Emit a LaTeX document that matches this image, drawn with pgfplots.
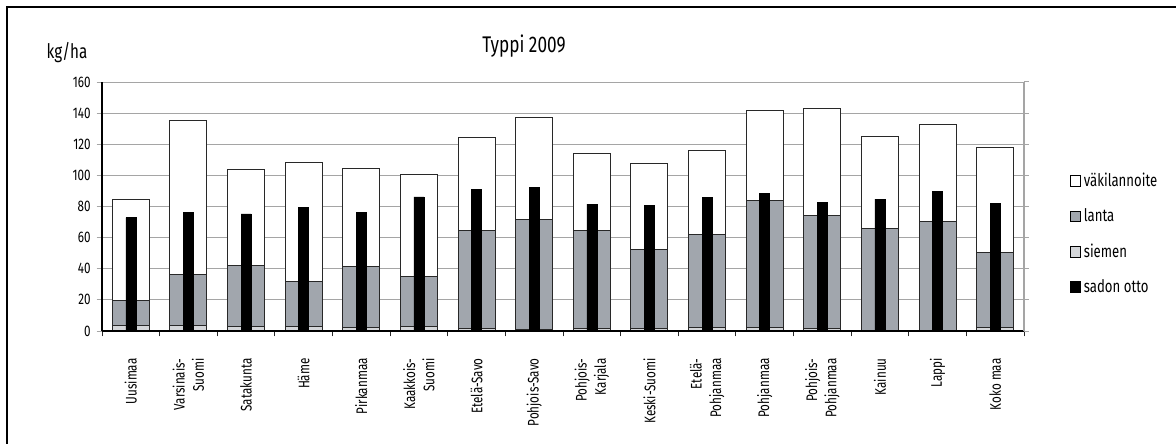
\documentclass[border=0pt]{standalone}
\usepackage{fontspec}
\setmainfont{Fira Sans}[FakeStretch=0.76]
\usepackage{pgfplots}
\pgfplotsset{compat=1.18}
\definecolor{lantac}{RGB}{161,166,173}
\definecolor{siemenc}{RGB}{212,214,217}
\definecolor{gridc}{RGB}{165,165,165}
\definecolor{edgec}{RGB}{40,40,40}
\begin{document}
\begin{tikzpicture}
\pgfplotsset{
  baseaxis/.style={
    scale only axis, width=691.5pt, height=186.75pt,
    at={(0pt,0pt)}, anchor=south west,
    xmin=-0.5, xmax=15.5, ymin=0, ymax=160,
  }
}
\begin{axis}[baseaxis,
  ybar stacked, bar width=27.75pt,
  axis line style={draw=none},
  ytick={0,20,40,60,80,100,120,140,160},
  ymajorgrids, major grid style={gridc, line width=0.75pt},
  ytick pos=left, tick align=outside,
  major tick length=4pt,
  ytick style={gridc, line width=0.75pt},
  yticklabel style={font=\fontsize{11.5}{13}\selectfont, xshift=-1pt},
  /pgf/number format/assume math mode=true,
  xtick={0,1,2,3,4,5,6,7,8,9,10,11,12,13,14,15}, xtick pos=bottom,
  xtick style={draw=none},
  xticklabels={Uusimaa,{Varsinais-\\Suomi},Satakunta,Häme,Pirkanmaa,{Kaakkois-\\Suomi},Etelä-Savo,Pohjois-Savo,{Pohjois-\\Karjala},Keski-Suomi,{Etelä-\\Pohjanmaa},Pohjanmaa,{Pohjois-\\Pohjanmaa},Kainuu,Lappi,Koko maa},
  xticklabel style={rotate=90, anchor=east, align=right, font=\fontsize{11.5}{14.5}\selectfont, xshift=-13pt},
  legend image code/.code={\draw[#1, line width=0.6pt] (0pt,-4pt) rectangle (7.5pt,4pt);},
  legend style={draw=none, fill=none, at={(1.05,0.645)}, anchor=north west,
    font=\fontsize{13}{15}\selectfont, row sep=11pt, inner sep=0pt},
  legend cell align=left,
]
\addlegendimage{fill=white, draw=black}
\addlegendentry{väkilannoite}
\addlegendimage{fill=lantac, draw=black}
\addlegendentry{lanta}
\addlegendimage{fill=siemenc, draw=black}
\addlegendentry{siemen}
\addlegendimage{fill=black, draw=black}
\addlegendentry{sadon otto}
% siemen
\addplot[fill=siemenc, draw=edgec, line width=0.75pt, forget plot] coordinates {
(0,3.4) (1,3.4) (2,3.0) (3,2.8) (4,2.4) (5,2.8) (6,1.3) (7,1.1)
(8,1.3) (9,1.5) (10,2.4) (11,2.4) (12,1.7) (13,0.6) (14,0.4) (15,2.4)};
% lanta
\addplot[fill=lantac, draw=edgec, line width=0.75pt, forget plot] coordinates {
(0,15.9) (1,33.0) (2,38.9) (3,29.3) (4,38.9) (5,32.1) (6,63.1) (7,70.8)
(8,63.5) (9,51.1) (10,59.6) (11,81.7) (12,72.7) (13,65.5) (14,70.0) (15,48.1)};
% vakilannoite
\addplot[fill=white, draw=edgec, line width=0.75pt, forget plot] coordinates {
(0,65.2) (1,99.0) (2,61.6) (3,76.3) (4,63.1) (5,65.8) (6,60.1) (7,65.0)
(8,49.4) (9,55.0) (10,54.1) (11,57.5) (12,68.3) (13,59.2) (14,62.0) (15,67.1)};
\end{axis}
\begin{axis}[baseaxis, hide y axis,
  axis x line*=bottom, x axis line style={black, line width=0.9pt, -},
  xtick={-0.5,0.5,1.5,2.5,3.5,4.5,5.5,6.5,7.5,8.5,9.5,10.5,11.5,12.5,13.5,14.5,15.5},
  xticklabels={}, tick align=outside, major tick length=4pt,
  xtick style={edgec, line width=0.75pt},
  ybar, bar width=7.5pt, bar shift=0pt]
\addplot[fill=black, draw=black] coordinates {
(0,72.9) (1,76.4) (2,75.3) (3,79.4) (4,76.1) (5,86.2) (6,91.1) (7,92.4)
(8,81.5) (9,80.9) (10,86.0) (11,88.6) (12,82.6) (13,84.7) (14,89.8) (15,82.1)};
\end{axis}
% left and right axis lines, right tick stubs
\draw[black, line width=0.9pt] (0pt,0pt) -- (0pt,186.75pt);
\draw[gridc, line width=0.9pt] (691.5pt,0pt) -- (691.5pt,186.75pt);
\foreach \k in {0,1,...,8} {\draw[gridc, line width=0.75pt] (691.5pt,\k*23.34375pt) -- ++(4pt,0pt);}
% title and unit
\node[anchor=base, font=\fontsize{17}{20}\selectfont] at (316.5pt,208.7pt) {Typpi 2009};
\node[anchor=base, font=\fontsize{15}{18}\selectfont] at (-26.25pt,204.5pt) {kg/ha};
% frame
\draw[black, line width=1.6pt] (-71.25pt,-90pt) -- (-71.25pt,243pt) -- (815pt,243pt);
\pgfresetboundingbox
\path[use as bounding box] (-76.5pt,-84pt) rectangle (805.5pt,248.25pt);
\end{tikzpicture}
\end{document}
